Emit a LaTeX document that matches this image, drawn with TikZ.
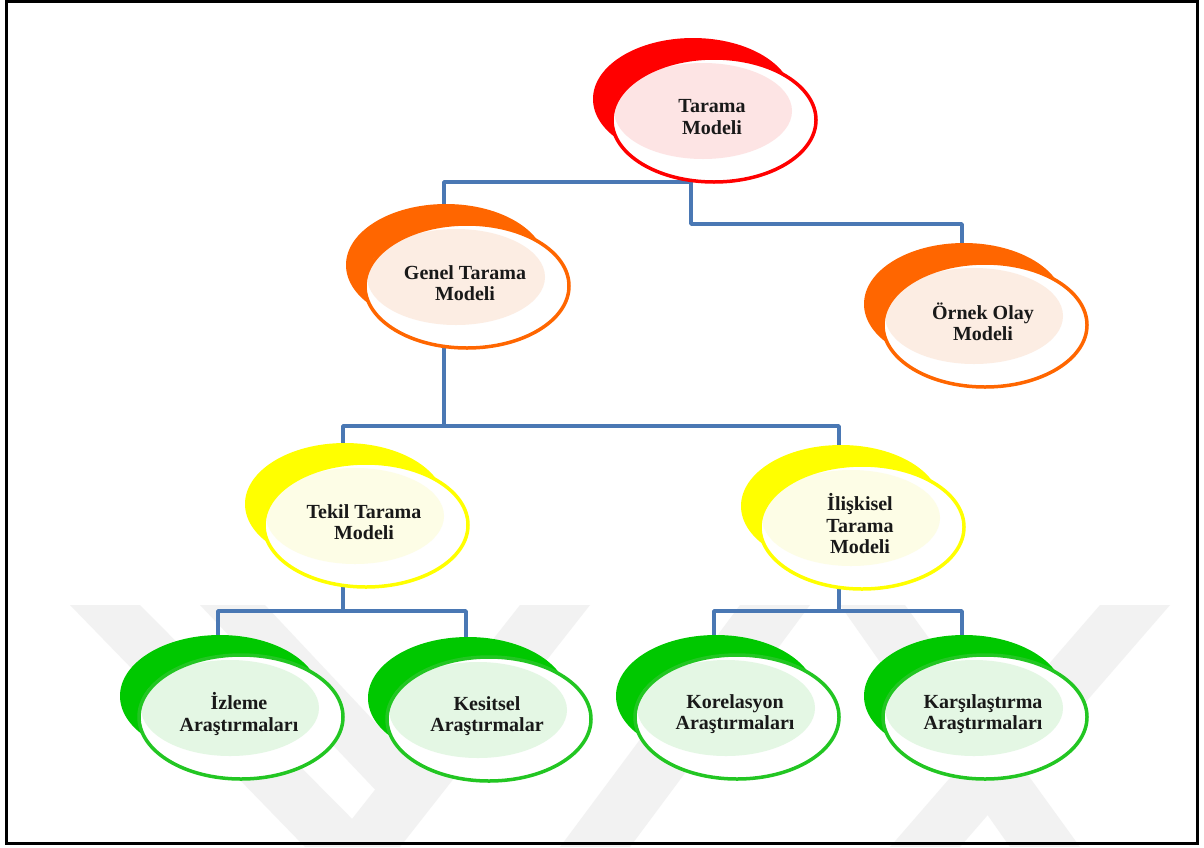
\documentclass[tikz,border=0pt]{standalone}
\usepackage{fontspec}
\setmainfont{Liberation Serif}
\usetikzlibrary{shapes.geometric,backgrounds}
\definecolor{cred}{HTML}{FF0000}
\definecolor{tred}{HTML}{FDE4E4}
\definecolor{corange}{HTML}{FF6600}
\definecolor{torange}{HTML}{FCEDE3}
\definecolor{cyellow}{HTML}{FFFF00}
\definecolor{tyellow}{HTML}{FDFDE6}
\definecolor{cgreen}{HTML}{00C800}
\definecolor{bgreen}{HTML}{22C622}
\definecolor{tgreen}{HTML}{E4F7E4}
\definecolor{connblue}{HTML}{4A78B4}
\definecolor{wmark}{HTML}{F2F2F2}
\tikzset{
  conn/.style={draw=connblue, line width=3.5pt, line join=round},
  frontell/.style={ellipse, inner sep=0pt, minimum width=204pt, minimum height=124pt, line width=3.5pt},
  lbl/.style={align=center, text=black!90, font=\bfseries\fontsize{20}{21.5}\selectfont, inner sep=0pt},
  wm/.style={fill=wmark, draw=none}
}
% #1 name, #2 x, #3 y, #4 colour, #5 border colour, #6 tint, #7 text
\newcommand{\bubble}[7]{%
  \fill[#4] (#2-21,#3-21) ellipse [x radius=100pt, y radius=61pt];
  \fill[white] (#2,#3) ellipse [x radius=102pt, y radius=62pt];
  \fill[#6] (#2-11,#3-9) ellipse [x radius=89pt, y radius=48pt];
  \node[frontell, draw=#5] (#1) at (#2,#3) {};
  \node[lbl] (#1-t) at (#2-2,#3-3) {#7};
  \coordinate (#1-h) at (#2-23,#3);
}
\begin{document}
\begin{tikzpicture}[x=1pt,y=-1pt]
\useasboundingbox (0,0) rectangle (1204,847);
% bubbles
\bubble{tarama}{714}{120}{cred}{cred}{tred}{Tarama\\Modeli}
\bubble{genel}{467}{286}{corange}{corange}{torange}{Genel Tarama\\Modeli}
\bubble{ornek}{985}{325}{corange}{corange}{torange}{Örnek Olay\\Modeli}
\bubble{tekil}{366}{525}{cyellow}{cyellow}{tyellow}{Tekil Tarama\\Modeli}
\bubble{iliskisel}{862}{527}{cyellow}{cyellow}{tyellow}{İlişkisel\\Tarama\\Modeli}
\bubble{izleme}{241}{717}{cgreen}{bgreen}{tgreen}{İzleme\\Araştırmaları}
\bubble{kesitsel}{489}{719}{cgreen}{bgreen}{tgreen}{Kesitsel\\Araştırmalar}
\bubble{korelasyon}{737}{717}{cgreen}{bgreen}{tgreen}{Korelasyon\\Araştırmaları}
\bubble{karsi}{985}{717}{cgreen}{bgreen}{tgreen}{Karşılaştırma\\Araştırmaları}
% bus levels
\coordinate (b1) at (0,182);
\coordinate (b2) at (0,224);
\coordinate (b3) at (0,426);
\coordinate (b4) at (0,611);
\begin{pgfonlayer}{background}
\fill[white] (0,0) rectangle (1204,847);
% watermark
\fill[wm] (70,605) -- (140,605) -- (380,847) -- (305,847) -- cycle;
\fill[wm] (200,605) -- (265,605) -- (420,770) -- (385,800) -- cycle;
\fill[wm] (520,605) -- (590,605) -- (400,847) -- (330,847) -- cycle;
\fill[wm] (740,605) -- (810,605) -- (630,847) -- (560,847) -- cycle;
\fill[wm] (840,605) -- (905,605) -- (1080,847) -- (1010,847) -- cycle;
\fill[wm] (1100,605) -- (1170,605) -- (960,847) -- (890,847) -- cycle;
% connectors
\draw[conn] (tarama-h) -- (tarama-h |- b1) -| (genel-h);
\draw[conn] (tarama-h) -- (tarama-h |- b2) -| (ornek-h);
\draw[conn] (genel-h) -- (genel-h |- b3) -| (tekil-h);
\draw[conn] (genel-h) -- (genel-h |- b3) -| (iliskisel-h);
\draw[conn] (tekil-h) -- (tekil-h |- b4) -| (izleme-h);
\draw[conn] (tekil-h) -- (tekil-h |- b4) -| (kesitsel-h);
\draw[conn] (iliskisel-h) -- (iliskisel-h |- b4) -| (korelasyon-h);
\draw[conn] (iliskisel-h) -- (iliskisel-h |- b4) -| (karsi-h);
\end{pgfonlayer}
% frame
\draw[black, line width=3pt] (6,1.5) rectangle (1197,843);
\end{tikzpicture}
\end{document}
